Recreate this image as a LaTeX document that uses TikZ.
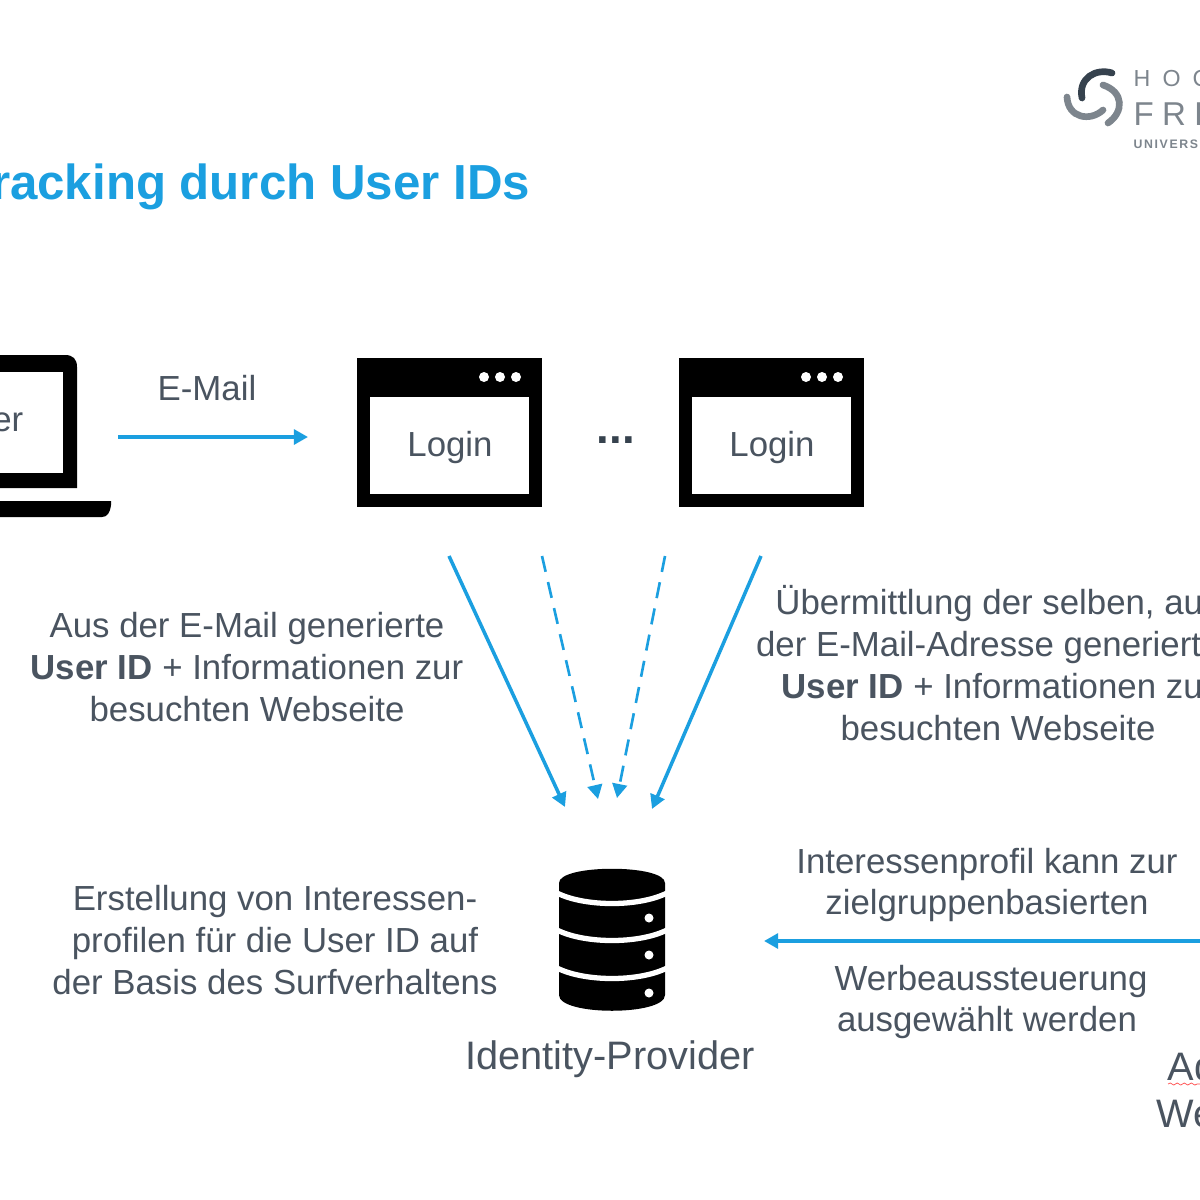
\documentclass[tikz,border=0pt]{standalone}
\usepackage{fontspec}
\setmainfont{Liberation Sans}
\usetikzlibrary{arrows.meta,decorations.pathmorphing}
\definecolor{idblue}{HTML}{1B9FE0}
\definecolor{idgray}{HTML}{4A5460}
\definecolor{logodark}{HTML}{36424E}
\definecolor{logogray}{HTML}{7D858D}
\tikzset{
  txt/.style={text=idgray,align=center,inner sep=0pt,font=\fontsize{9.9}{11.9}\selectfont},
  bigtxt/.style={txt,font=\fontsize{11.3}{13.4}\selectfont},
  flow/.style={draw=idblue,line width=1pt,-{Triangle[length=4pt,width=4.2pt]}},
  dashflow/.style={flow,line width=0.75pt,dash pattern=on 4.6pt off 3pt},
  logotxt/.style={text=logogray,inner sep=0pt,anchor=base west},
  logoarc/.style={line width=1.9pt,line cap=round}
}
\begin{document}
\begin{tikzpicture}[x=0.01cm,y=-0.01cm]
\useasboundingbox (0,0) rectangle (1200,1200);
\clip (0,0) rectangle (1200,1200);
\fill[white] (0,0) rectangle (1200,1200);
% logo
\draw[logodark,logoarc] (1112,73) .. controls (1096,68) and (1078,78) .. (1082,98);
\draw[logogray,logoarc] (1103,85) .. controls (1124,92) and (1124,112) .. (1108,123);
\draw[logogray,logoarc] (1103,110) .. controls (1090,122) and (1068,118) .. (1067,97);
\node[logotxt,font=\fontsize{6.6}{8}\selectfont\addfontfeature{LetterSpace=52}] (hoc) at (1133,86) {HOC};
\node[logotxt,font=\fontsize{9.4}{12}\selectfont\addfontfeature{LetterSpace=25}] (fre) at (1133,125) {FRE};
\node[logotxt,font=\bfseries\fontsize{3.5}{4}\selectfont\addfontfeature{LetterSpace=13}] (univers) at (1133,148) {UNIVERS};
% title
\node[text=idblue,inner sep=0pt,anchor=base west,font=\bfseries\fontsize{14}{16}\selectfont] (title) at (-37,199) {Tracking durch User IDs};
% laptop
\fill (-20,355) -- (65,355) .. controls (73,355) and (77,359) .. (77,367) -- (77,488) -- (-20,488) -- cycle;
\fill[white] (-20,372) rectangle (63,473);
\fill (-20,501) -- (111,501) -- (111,505) .. controls (110,513) and (107,517) .. (102,517) -- (-20,517) -- cycle;
\node[txt,anchor=base east] (user) at (24,431) {User};
% login windows
\foreach \wx/\wname in {357/loginA,679/loginB}{
  \fill (\wx,358) rectangle ++(185,149);
  \fill[white] (\wx+13,397) rectangle ++(159,97);
  \foreach \dx in {127,143,159}
    \fill[white] (\wx+\dx,377) circle (5);
  \node[txt] (\wname) at (\wx+93,447) {Login};
}
\node[text=logodark,inner sep=0pt,font=\bfseries\fontsize{13}{15}\selectfont] (dots) at (616,440) {...};
% database
\fill (559,883) .. controls (559,864) and (665,864) .. (665,883) -- (665,995) .. controls (665,1016) and (559,1016) .. (559,995) -- cycle;
\foreach \by in {893,930,968}
  \draw[white,line width=1.5pt] (557,\by) .. controls (585,\by+14) and (639,\by+14) .. (667,\by);
\foreach \by in {918,955,993}
  \fill[white] (649,\by) circle (4.5);
\node[bigtxt] (idp) at (610,1059) {Identity-Provider};
% texts
\node[txt] (email) at (207,388) {E-Mail};
\node[txt] (left) at (247,667) {Aus der E-Mail generierte\\\textbf{User ID} + Informationen zur\\besuchten Webseite};
\node[txt] (right) at (998,663) {Übermittlung der selben, aus\\der E-Mail-Adresse generierten\\\textbf{User ID} + Informationen zur\\besuchten Webseite};
\node[txt] (profile) at (275,940) {Erstellung von Interessen-\\profilen für die User ID auf\\der Basis des Surfverhaltens};
\node[txt] (adA) at (987,885) {Interessenprofil kann zur\\zielgruppenbasierten};
\node[txt] (adB) at (991,981) {Werbeaussteuerung};
\node[txt] (adC) at (987,1022) {ausgewählt werden};
\node[bigtxt,anchor=base west] (ad) at (1167,1080) {Ad};
\node[bigtxt,anchor=base west] (we) at (1156,1127) {We};
\draw[red!70,line width=0.2pt,decorate,decoration={snake,amplitude=0.3pt,segment length=2pt}] (1168,1084) -- (1200,1084);
% connectors
\coordinate (mailstart) at (118,437);
\coordinate (mailend) at (308,437);
\coordinate (a1) at (449,556);
\coordinate (a2) at (565,807);
\coordinate (b1) at (542,556);
\coordinate (b2) at (598,799);
\coordinate (c1) at (665,556);
\coordinate (c2) at (617,798);
\coordinate (d1) at (761,556);
\coordinate (d2) at (652,809);
\coordinate (e1) at (1210,941);
\coordinate (e2) at (764,941);
\draw[flow] (mailstart)--(mailend);
\draw[flow] (a1)--(a2);
\draw[flow] (d1)--(d2);
\draw[flow] (e1)--(e2);
\draw[dashflow] (b1)--(b2);
\draw[dashflow] (c1)--(c2);
\end{tikzpicture}
\end{document}
